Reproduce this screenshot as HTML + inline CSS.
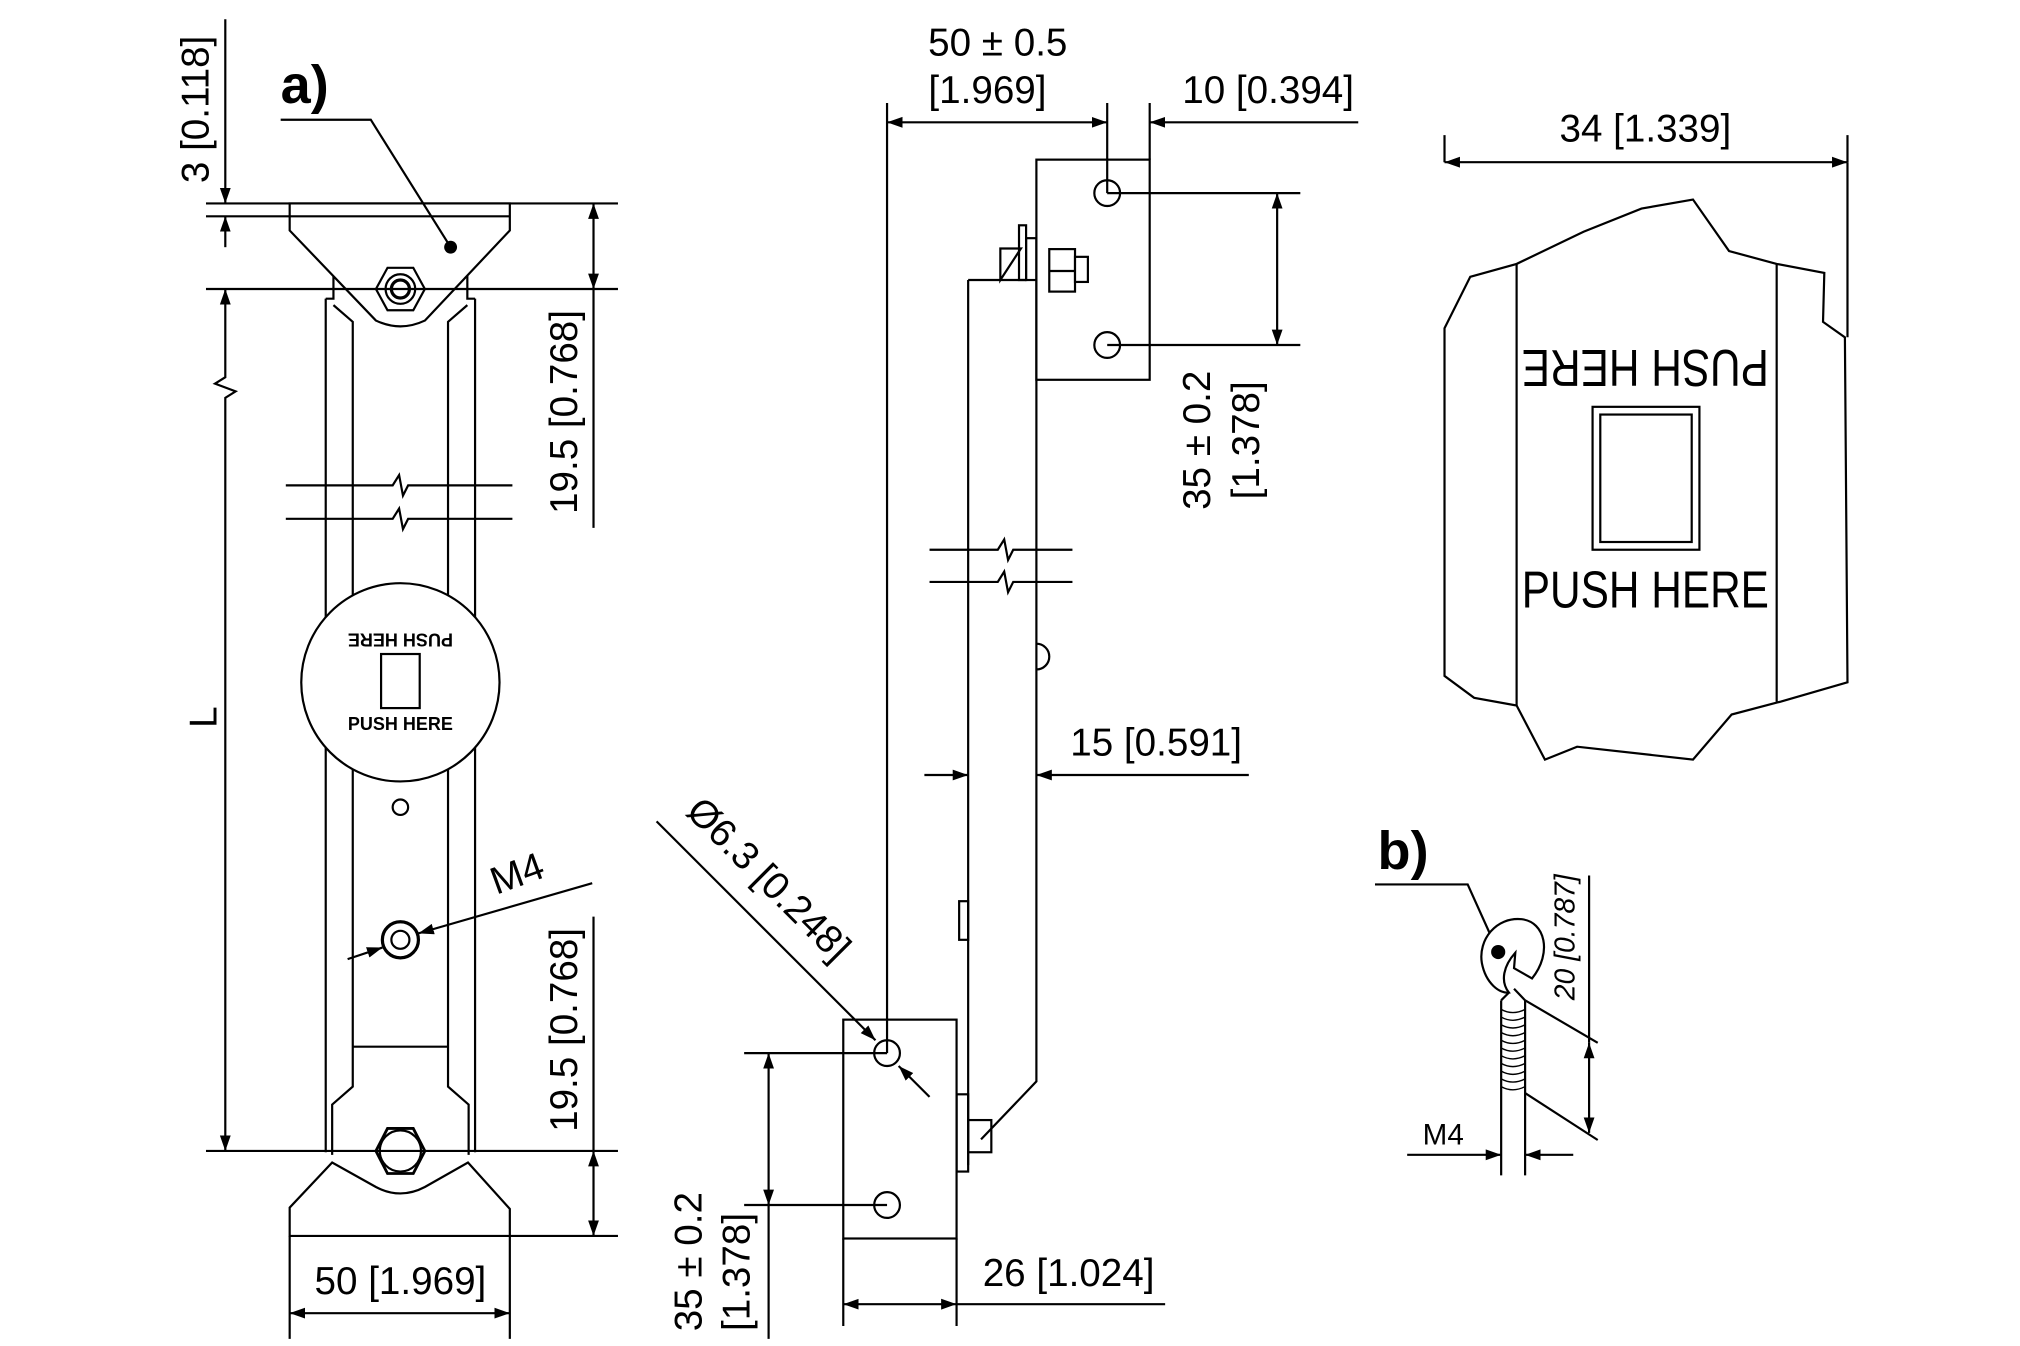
<!DOCTYPE html>
<html><head><meta charset="utf-8"><style>
html,body{margin:0;padding:0;background:#fff;}
svg{display:block;}
text{font-family:"Liberation Sans",sans-serif;fill:#000;}
</style></head><body>
<svg width="2020" height="1346" viewBox="0 0 1569 1045.5" preserveAspectRatio="none" xmlns="http://www.w3.org/2000/svg">
<defs>
<marker id="a" viewBox="0 0 10 10" refX="10" refY="5" markerWidth="12" markerHeight="12" markerUnits="userSpaceOnUse" orient="auto-start-reverse"><path d="M0,1.5 L10,5 L0,8.5 z" fill="#000"/></marker>
</defs>
<g stroke="#000" stroke-width="1.7" fill="none">
<path d="M253,232 V895 M369,232 V895"/>
<path d="M253,232 H259 V214 M369,232 H363 V214"/>
<path d="M259,237 L274,250 V844 L258,858 V897"/>
<path d="M363,237 L348,250 V844 L364,858 V897"/>
<line x1="274" y1="813" x2="348" y2="813"/>
<path d="M225,158 H396 V179 L330,249 Q311,258 292,249 L225,179 Z" fill="#fff"/>
<line x1="225" y1="168" x2="396" y2="168"/>
<polygon points="292,224.5 301,208 321,208 330,224.5 321,241 301,241" fill="#fff"/>
<circle cx="311" cy="224.5" r="11.5"/>
<circle cx="311" cy="224.5" r="7" stroke-width="2.5"/>
<path d="M258,903 L225,938 V960 H396 V939 L363.5,903 L330,922 Q311,932 292,922 Z" fill="#fff"/>
<polygon points="292,894 301,876.5 321,876.5 330,894 321,911.5 301,911.5" fill="#fff" stroke-width="2.2"/>
<circle cx="311" cy="894" r="16"/>
<path d="M222,377 H305 l5,-8 l3,16 l4,-8 H398"/>
<path d="M222,403 H305 l5,-8 l3,16 l4,-8 H398"/>
<circle cx="311" cy="530" r="77" fill="#fff"/>
<rect x="296" y="508" width="30" height="42"/>
<circle cx="311" cy="627" r="6"/>
<circle cx="311" cy="730" r="14" stroke-width="2.5"/>
<circle cx="311" cy="730" r="7"/>
<line x1="160" y1="158" x2="480" y2="158"/>
<line x1="160" y1="168" x2="225" y2="168"/>
<line x1="160" y1="224.5" x2="480" y2="224.5"/>
<line x1="160" y1="894" x2="480" y2="894"/>
<line x1="396" y1="960" x2="480" y2="960"/>
<line x1="175" y1="15" x2="175" y2="158" marker-end="url(#a)"/>
<line x1="175" y1="192" x2="175" y2="168" marker-end="url(#a)"/>
<path d="M175,224.5 V293 l-8,5 l16,6 l-8,5 V894" marker-start="url(#a)" marker-end="url(#a)"/>
<line x1="461" y1="158" x2="461" y2="224.5" marker-start="url(#a)" marker-end="url(#a)"/>
<line x1="461" y1="224.5" x2="461" y2="410"/>
<line x1="461" y1="712" x2="461" y2="894"/>
<line x1="461" y1="894" x2="461" y2="960" marker-start="url(#a)" marker-end="url(#a)"/>
<line x1="225" y1="960" x2="225" y2="1040"/>
<line x1="396" y1="960" x2="396" y2="1040"/>
<line x1="225" y1="1020" x2="396" y2="1020" marker-start="url(#a)" marker-end="url(#a)"/>
<polyline points="218,93 288,93 350,192"/>
<line x1="270" y1="745" x2="297" y2="736" marker-end="url(#a)"/>
<line x1="460" y1="686" x2="325" y2="725" marker-end="url(#a)"/>
<rect x="805" y="124" width="88" height="171" fill="#fff"/>
<circle cx="860" cy="150" r="10"/>
<circle cx="860" cy="268" r="10"/>
<path d="M752,217.5 H797 M752,217.5 V905 M805,217.5 V840 L762,885"/>
<path d="M777,217.5 L793,193 H777 Z"/>
<rect x="791.5" y="175" width="5.5" height="42.5"/>
<rect x="797" y="185" width="8" height="32.5"/>
<rect x="815" y="193.5" width="20" height="33" fill="#fff"/>
<line x1="815" y1="210.5" x2="835" y2="210.5"/>
<rect x="835" y="199.5" width="10" height="19.5" fill="#fff"/>
<rect x="743" y="850" width="9" height="60"/>
<rect x="752" y="870" width="18" height="25"/>
<rect x="745" y="700" width="7" height="30"/>
<path d="M805,500 a8,8 0 0 1 0,20"/>
<path d="M722,427 H775 l5,-8 l3,16 l4,-8 H833"/>
<path d="M722,452 H775 l5,-8 l3,16 l4,-8 H833"/>
<rect x="655" y="792" width="88" height="170" fill="#fff"/>
<circle cx="689" cy="818" r="10"/>
<circle cx="689" cy="936" r="10"/>
<line x1="689" y1="80" x2="689" y2="818"/>
<line x1="860" y1="80" x2="860" y2="150"/>
<line x1="893" y1="80" x2="893" y2="124"/>
<line x1="689" y1="95" x2="860" y2="95" marker-start="url(#a)" marker-end="url(#a)"/>
<line x1="1055" y1="95" x2="893" y2="95" marker-end="url(#a)"/>
<line x1="860" y1="150" x2="1010" y2="150"/>
<line x1="860" y1="268" x2="1010" y2="268"/>
<line x1="992" y1="150" x2="992" y2="268" marker-start="url(#a)" marker-end="url(#a)"/>
<line x1="718" y1="602" x2="752" y2="602" marker-end="url(#a)"/>
<line x1="970" y1="602" x2="805" y2="602" marker-end="url(#a)"/>
<line x1="510" y1="638" x2="680" y2="808" marker-end="url(#a)"/>
<line x1="722" y1="852" x2="698" y2="828" marker-end="url(#a)"/>
<line x1="578" y1="818" x2="689" y2="818"/>
<line x1="578" y1="936" x2="689" y2="936"/>
<line x1="597" y1="818" x2="597" y2="936" marker-start="url(#a)" marker-end="url(#a)"/>
<line x1="597" y1="936" x2="597" y2="1040"/>
<line x1="655" y1="962" x2="655" y2="1030"/>
<line x1="743" y1="962" x2="743" y2="1030"/>
<line x1="655" y1="1013" x2="743" y2="1013" marker-start="url(#a)" marker-end="url(#a)"/>
<line x1="743" y1="1013" x2="905" y2="1013"/>
<path d="M1122,105 V126 M1435,105 V126"/>
<line x1="1122" y1="126" x2="1435" y2="126" marker-start="url(#a)" marker-end="url(#a)"/>
<polygon points="1122,255 1142,215 1178,205 1230,180 1275,162 1315,155 1343,195 1380,205 1417,212 1416,250 1433,262 1435,530 1383,545 1345,555 1315,590 1225,580 1200,590 1178,548 1145,542 1122,525" fill="#fff"/>
<line x1="1178" y1="205" x2="1178" y2="548"/>
<line x1="1380" y1="205" x2="1380" y2="545"/>
<line x1="1435" y1="126" x2="1435" y2="262"/>
<rect x="1237" y="316" width="83" height="111"/>
<rect x="1243" y="322" width="71" height="99"/>
<polyline points="1068,687 1140,687 1163,738"/>
<path d="M1183,756 L1190,760 C1206,740 1200,716 1182,714 C1162,712 1148,730 1151,748 C1154,764 1165,772 1172,771 C1165,762 1168,750 1177,740 L1176,752 Z" fill="#fff"/>
<path d="M1172,771 L1166,777 M1176,768 L1184.6,777"/>
<line x1="1166" y1="777" x2="1166" y2="913"/>
<line x1="1184.6" y1="777" x2="1184.6" y2="913"/>
<path stroke-width="1.1" d="M1166,784 q9,5 18.6,0 M1166,790 q9,5 18.6,0 M1166,796 q9,5 18.6,0 M1166,802 q9,5 18.6,0 M1166,808 q9,5 18.6,0 M1166,814 q9,5 18.6,0 M1166,820 q9,5 18.6,0 M1166,826 q9,5 18.6,0 M1166,832 q9,5 18.6,0 M1166,838 q9,5 18.6,0 M1166,844 q9,5 18.6,0"/>
<line x1="1184.6" y1="777" x2="1241" y2="810"/>
<line x1="1184.6" y1="849" x2="1241" y2="885.5"/>
<line x1="1234.3" y1="810" x2="1234.3" y2="880" marker-start="url(#a)" marker-end="url(#a)"/>
<line x1="1234.3" y1="680" x2="1234.3" y2="810"/>
<line x1="1093" y1="897" x2="1166" y2="897" marker-end="url(#a)"/>
<line x1="1222" y1="897" x2="1184.6" y2="897" marker-end="url(#a)"/>
</g>
<circle cx="350" cy="192" r="5" fill="#000"/>
<circle cx="1163.7" cy="739.5" r="5.5" fill="#000"/>
<g font-size="30">
<text x="218" y="80" font-size="42" font-weight="bold">a)</text>
<text x="1070" y="675" font-size="42" font-weight="bold">b)</text>
<text transform="translate(162,85) rotate(-90)" text-anchor="middle">3 [0.118]</text>
<text transform="translate(168,557) rotate(-90)" text-anchor="middle">L</text>
<text transform="translate(448,320) rotate(-90)" text-anchor="middle">19.5 [0.768]</text>
<text transform="translate(448,800) rotate(-90)" text-anchor="middle">19.5 [0.768]</text>
<text x="311" y="1005" text-anchor="middle">50 [1.969]</text>
<text transform="translate(405,688) rotate(-20)" text-anchor="middle">M4</text>
<text transform="translate(311,492) rotate(180)" text-anchor="middle" font-size="14" font-weight="bold">PUSH HERE</text>
<text x="311" y="567" text-anchor="middle" font-size="14" font-weight="bold">PUSH HERE</text>
<text x="775" y="43" text-anchor="middle">50 ± 0.5</text>
<text x="767" y="80" text-anchor="middle">[1.969]</text>
<text x="985" y="80" text-anchor="middle">10 [0.394]</text>
<text transform="translate(940,342) rotate(-90)" text-anchor="middle">35 ± 0.2</text>
<text transform="translate(978,342) rotate(-90)" text-anchor="middle">[1.378]</text>
<text x="898" y="587" text-anchor="middle">15 [0.591]</text>
<text transform="translate(590,690) rotate(45)" text-anchor="middle">Ø6.3 [0.248]</text>
<text transform="translate(545,980) rotate(-90)" text-anchor="middle">35 ± 0.2</text>
<text transform="translate(582,988) rotate(-90)" text-anchor="middle">[1.378]</text>
<text x="830" y="999" text-anchor="middle">26 [1.024]</text>
<text x="1278" y="110" text-anchor="middle">34 [1.339]</text>
<text transform="translate(1278,272) rotate(180)" text-anchor="middle" font-size="40" textLength="192" lengthAdjust="spacingAndGlyphs">PUSH HERE</text>
<text x="1278" y="472" text-anchor="middle" font-size="40" textLength="192" lengthAdjust="spacingAndGlyphs">PUSH HERE</text>
<text transform="translate(1223,728) rotate(-90)" text-anchor="middle" font-size="22" font-style="italic">20 [0.787]</text>
<text x="1121" y="889" text-anchor="middle" font-size="23">M4</text>
</g>
</svg>
</body></html>
